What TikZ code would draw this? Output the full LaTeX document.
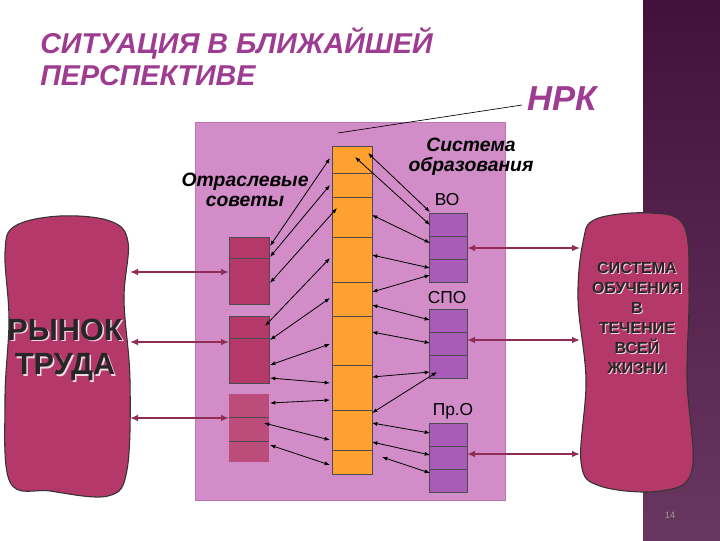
\documentclass[tikz,border=0pt]{standalone}
\usepackage{fontspec}
\setmainfont{Liberation Sans}
\usetikzlibrary{arrows.meta}
\definecolor{bgpink}{HTML}{D28CC8}
\definecolor{crim}{HTML}{B5386A}
\definecolor{lil}{HTML}{A85CB8}
\definecolor{orng}{HTML}{FFA030}
\definecolor{ttl}{HTML}{9E3C92}
\definecolor{strip}{HTML}{4E1445}
\begin{document}
\begin{tikzpicture}[x=0.75pt,y=-0.75pt,
  cellbox/.style={draw=black!70,line width=0.5pt},
  dbl/.style={{Latex[length=4pt,width=3pt]}-{Latex[length=4pt,width=3pt]},line width=0.6pt},
  fat/.style={{Latex[length=6pt,width=5pt]}-{Latex[length=6pt,width=5pt]},line width=1.6pt,draw=crim!80!black},
  lbl/.style={font=\bfseries\itshape\fontsize{14.5}{15}\selectfont,align=center,inner sep=0},
  sm/.style={font=\fontsize{13}{14}\selectfont,inner sep=0}]
\useasboundingbox (0,0) rectangle (720,540);
\fill[white] (0,0) rectangle (720,540);
\shade[top color=strip!85!black,bottom color=strip!85] (643,0) rectangle (720,540);
% title
\node[anchor=west,text=ttl,font=\bfseries\itshape\fontsize{21.5}{24}\selectfont,align=left,inner sep=0] (title) at (40,57) {СИТУАЦИЯ В БЛИЖАЙШЕЙ\\ПЕРСПЕКТИВЕ};
\node[text=ttl,font=\bfseries\itshape\fontsize{26}{28}\selectfont,inner sep=0] (nrk) at (562,99) {НРК};
% big box
\node[draw=ttl!70,fill=bgpink,minimum width=232.5pt,minimum height=283.5pt,inner sep=0] (big) at (350,311) {};
\draw[line width=0.5pt] (nrk.west) ++(-5,6) coordinate (n1) -- (338,133);
% orange column
\fill[orng] (332,146) rectangle (372,474);
\foreach \a/\b in {146/173,173/197,197/237,237/282,282/316,316/365,365/410,410/450,450/474}
  \draw[cellbox] (332,\a) rectangle (372,\b);
% left blocks
\fill[crim] (229,237) rectangle (269,304);
\draw[cellbox] (229,237) rectangle (269,304); \draw[cellbox] (229,258)--(269,258);
\fill[crim] (229,316) rectangle (269,383);
\draw[cellbox] (229,316) rectangle (269,383); \draw[cellbox] (229,338)--(269,338);
\fill[crim!90!white] (229,394) rectangle (269,462);
\draw[black!70,line width=0.5pt] (229,417)--(269,417) (229,441)--(269,441);
% right blocks
\foreach \t in {213,309,423}{
  \fill[lil] (429,\t) rectangle (467,\t+69);
  \draw[cellbox] (429,\t) rectangle (467,\t+69);
  \draw[cellbox] (429,\t+23)--(467,\t+23) (429,\t+46)--(467,\t+46);}
% labels
\node[lbl] (otr) at (245,190) {Отраслевые\\советы};
\node[lbl] (sys) at (471,157) {Система\\образования};
\node[sm] (vo) at (447,200) {ВО};
\node[sm] (spo) at (447,298) {СПО};
\node[sm] (pro) at (453,411) {Пр.О};
% blobs
\draw[fill=crim,draw=black!80,line width=0.8pt] plot[smooth cycle,tension=0.6] coordinates
 {(15,226) (60,216) (110,221) (128,242) (124,300) (130,380) (127,470) (108,496) (50,491) (10,482) (5,400) (9,320) (5,252)};
\draw[fill=crim,draw=black!80,line width=0.8pt] plot[smooth cycle,tension=0.6] coordinates
 {(596,219) (650,213) (684,226) (689,292) (687,380) (692,470) (660,491) (600,486) (581,462) (586,380) (578,300) (583,242)};
\node[font=\bfseries\fontsize{23}{26}\selectfont,align=center,inner sep=0,text=white!80!crim] at (66.5,351.5) {РЫНОК\\ТРУДА};
\node[font=\bfseries\fontsize{23}{26}\selectfont,align=center,inner sep=0,text=black!85] (rt) at (65,350) {РЫНОК\\ТРУДА};
\node[font=\bfseries\fontsize{12}{15}\selectfont,align=center,inner sep=0,text=white!80!crim] at (638,319) {СИСТЕМА\\ОБУЧЕНИЯ\\В\\ТЕЧЕНИЕ\\ВСЕЙ\\ЖИЗНИ};
\node[font=\bfseries\fontsize{12}{15}\selectfont,align=center,inner sep=0,text=black!85] (sl) at (637,318) {СИСТЕМА\\ОБУЧЕНИЯ\\В\\ТЕЧЕНИЕ\\ВСЕЙ\\ЖИЗНИ};
% fat arrows
\draw[fat] (130,272)--(229,272);
\draw[fat] (130,342)--(229,342);
\draw[fat] (130,418)--(229,418);
\draw[fat] (580,248)--(467,248);
\draw[fat] (580,340)--(467,340);
\draw[fat] (580,454)--(467,454);
% thin arrows left
\foreach \x/\y/\u/\v in {270/246/330/158, 270/257/330/185, 270/283/337/208, 265/326/330/258, 270/340/330/298, 270/365/330/344, 270/378/330/383, 270/403/330/400, 264/423/330/440, 270/445/330/465}
  \draw[dbl] (\x,\y)--(\u,\v);
% thin arrows right
\foreach \x/\y/\u/\v in {368/153/430/212, 355/157/430/225, 372/215/430/243, 372/255/430/268, 372/292/430/275, 372/305/430/320, 372/332/430/343, 372/377/430/372, 372/413/437/372, 372/423/430/433, 372/442/430/455, 382/457/430/473}
  \draw[dbl] (\x,\y)--(\u,\v);
\node[font=\fontsize{7}{8}\selectfont,text=black!40] (pg) at (670,515) {14};
\end{tikzpicture}
\end{document}
